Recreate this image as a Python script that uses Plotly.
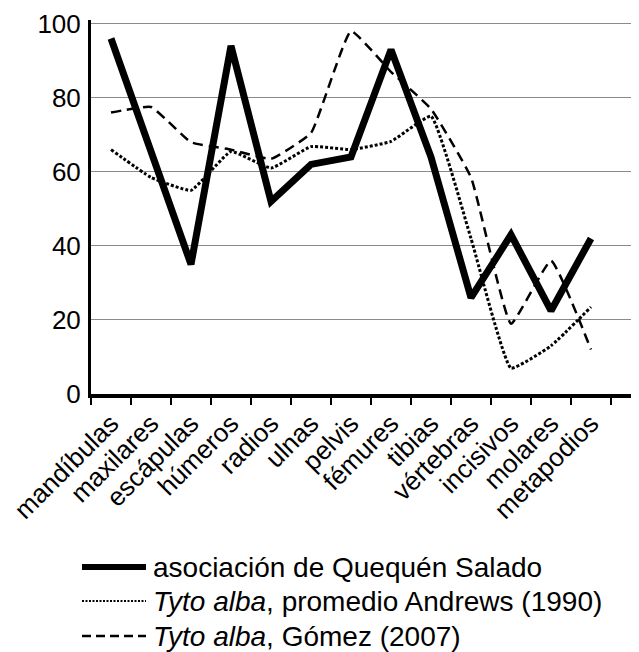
import plotly.graph_objects as go

categories = ["mandíbulas", "maxilares", "escápulas", "húmeros", "radios", "ulnas",
              "pelvis", "fémures", "tibias", "vértebras", "incisivos", "molares", "metapodios"]
quequen = [96, 66, 35, 94, 52, 62, 64, 93, 64, 26, 43, 22.5, 42]
andrews = [66, 58.5, 55, 65.5, 61, 66.8, 66, 68.2, 75, 42, 7, 13, 23.5]
gomez = [76, 77.5, 68, 66, 63.5, 70.5, 98, 87, 77, 58.5, 19, 36, 12]
y_ticks = [0, 20, 40, 60, 80, 100]

legend_labels = ["asociación de Quequén Salado",
                 "<i>Tyto alba</i>, promedio Andrews (1990)",
                 "<i>Tyto alba</i>, Gómez (2007)"]

# page body has an 8px default margin; work in window pixels, shift by OFF
OFF = 8
W, H = 639 - OFF, 652 - OFF
ML, MR, MT, MB = 91 - OFF, 0, 20 - OFF, 652 - 394
PW, PH = W - ML - MR, H - MT - MB
FONT = "Liberation Sans, Arial, sans-serif"

fig = go.Figure()
fig.add_trace(go.Scatter(x=categories, y=andrews, mode="lines",
                         line=dict(color="black", width=3, dash="3px,2px", shape="spline", smoothing=0.35)))
fig.add_trace(go.Scatter(x=categories, y=gomez, mode="lines",
                         line=dict(color="black", width=2.5, dash="10px,6px", shape="spline", smoothing=0.35)))
fig.add_trace(go.Scatter(x=categories, y=quequen, mode="lines",
                         line=dict(color="black", width=7)))

def px2paper(px, py):
    # window pixel -> paper coords
    px -= OFF
    py -= OFF
    return (px - ML) / PW, (H - MB - py) / PH

shapes = []
annotations = []
styles = [dict(width=6, dash="solid"), dict(width=2, dash="2px,1.5px"), dict(width=2.5, dash="9px,5px")]
rows_y = [567, 601, 636]
for lab, st, ry in zip(legend_labels, styles, rows_y):
    x0, y0 = px2paper(82, ry)
    x1, _ = px2paper(146, ry)
    shapes.append(dict(type="line", xref="paper", yref="paper", x0=x0, x1=x1, y0=y0, y1=y0,
                       line=dict(color="black", width=st["width"], dash=st["dash"])))
    tx, ty = px2paper(151, ry)
    annotations.append(dict(xref="paper", yref="paper", x=tx, y=ty, text=lab, showarrow=False,
                            xanchor="left", yanchor="middle",
                            font=dict(family=FONT, size=28, color="black")))

fig.update_layout(
    width=W, height=H, margin=dict(l=ML, r=MR, t=MT, b=MB, autoexpand=False),
    paper_bgcolor="white", plot_bgcolor="white", showlegend=False,
    shapes=shapes, annotations=annotations,
    xaxis=dict(type="category", range=[-0.5, 13.2], tickson="boundaries", automargin=False,
               ticks="outside", ticklen=7, tickwidth=2, tickcolor="black",
               showline=True, linewidth=4, linecolor="black", showgrid=False,
               tickangle=-45, tickfont=dict(family=FONT, size=26, color="black")),
    yaxis=dict(range=[0, 101], tickvals=y_ticks, showgrid=True, gridcolor="#8a8a8a", gridwidth=1,
               showline=True, linewidth=3, linecolor="black", ticks="", zeroline=False, automargin=False,
               tickfont=dict(family=FONT, size=26, color="black"), ticklabelstandoff=2),
)
fig.write_html("out.html")
